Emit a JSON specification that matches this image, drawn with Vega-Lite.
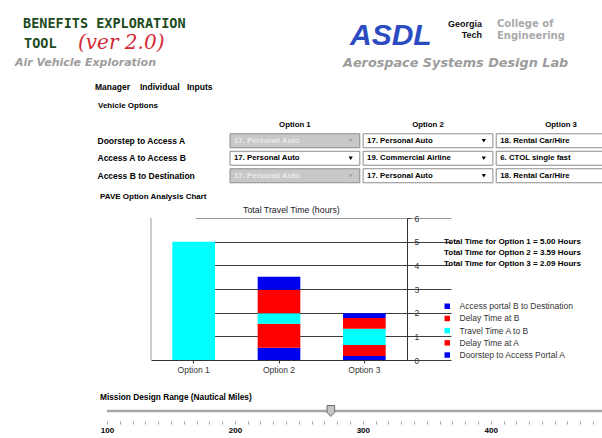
{
  "$schema": "https://vega.github.io/schema/vega-lite/v6.json",
  "padding": 0,
  "spacing": 0,
  "bounds": "flush",
  "config": {
    "view": {"stroke": null},
    "font": "Liberation Sans",
    "title": {"orient": "bottom", "anchor": "start", "frame": "group", "fontWeight": "bold", "color": "#000000"}
  },
  "vconcat": [
    {"width": 1, "height": 1, "data": {"values": []}, "mark": "point",
     "title": {"text": "BENEFITS EXPLORATION", "font": "DejaVu Sans Mono", "fontSize": 13.5, "fontWeight": "bold", "color": "#1d4a1d", "dx": 23, "offset": 16}},
    {"width": 1, "height": 1, "data": {"values": []}, "mark": "point",
     "title": {"text": "TOOL", "font": "DejaVu Sans Mono", "fontSize": 13.5, "fontWeight": "bold", "color": "#1d4a1d", "dx": 24, "offset": 35}},
    {"width": 1, "height": 1, "data": {"values": []}, "mark": "point",
     "title": {"text": "(ver 2.0)", "font": "DejaVu Serif", "fontSize": 20, "fontStyle": "italic", "fontWeight": "normal", "color": "#d42a35", "dx": 78, "offset": 29.5}},
    {"width": 1, "height": 1, "data": {"values": []}, "mark": "point",
     "title": {"text": "Air Vehicle Exploration", "font": "DejaVu Sans", "fontSize": 11, "fontStyle": "italic", "fontWeight": "bold", "color": "#9c9c9c", "dx": 15, "offset": 53}},
    {"width": 1, "height": 1, "data": {"values": []}, "mark": "point",
     "title": {"text": "ASDL", "font": "Liberation Sans", "fontSize": 30, "fontStyle": "italic", "fontWeight": "bold", "color": "#2b4cc0", "dx": 350, "offset": 16}},
    {"width": 1, "height": 1, "data": {"values": []}, "mark": "point",
     "title": {"text": "Georgia", "fontSize": 9, "fontWeight": "bold", "color": "#111111", "align": "right", "dx": 482, "offset": 14}},
    {"width": 1, "height": 1, "data": {"values": []}, "mark": "point",
     "title": {"text": "Tech", "fontSize": 9, "fontWeight": "bold", "color": "#111111", "align": "right", "dx": 482, "offset": 24}},
    {"width": 1, "height": 1, "data": {"values": []}, "mark": "point",
     "title": {"text": "College of", "font": "DejaVu Sans", "fontSize": 10, "fontWeight": "bold", "color": "#aaaaaa", "dx": 497, "offset": 11}},
    {"width": 1, "height": 1, "data": {"values": []}, "mark": "point",
     "title": {"text": "Engineering", "font": "DejaVu Sans", "fontSize": 10, "fontWeight": "bold", "color": "#aaaaaa", "dx": 497, "offset": 22}},
    {"width": 1, "height": 1, "data": {"values": []}, "mark": "point",
     "title": {"text": "Aerospace Systems Design Lab", "font": "DejaVu Sans", "fontSize": 12.8, "fontStyle": "italic", "fontWeight": "bold", "color": "#9c9c9c", "dx": 343, "offset": 47}},
    {"width": 1, "height": 1, "data": {"values": []}, "mark": "point",
     "title": {"text": "Manager", "fontSize": 8.5, "dx": 95, "offset": 72}},
    {"width": 1, "height": 1, "data": {"values": []}, "mark": "point",
     "title": {"text": "Individual", "fontSize": 8.5, "dx": 140, "offset": 71}},
    {"width": 1, "height": 1, "data": {"values": []}, "mark": "point",
     "title": {"text": "Inputs", "fontSize": 8.5, "dx": 187, "offset": 70}},
    {"width": 1, "height": 1, "data": {"values": []}, "mark": "point",
     "title": {"text": "Vehicle Options", "fontSize": 8, "dx": 98, "offset": 87.5}},
    {"width": 1, "height": 118, "data": {"values": []}, "mark": "point"},
    {
      "width": 602,
      "height": 52.5,
      "data": {"values": [
        {"leg": "Doorstep to Access A", "option": "Option 1", "vehicle": "17. Personal Auto", "state": "disabled"},
        {"leg": "Doorstep to Access A", "option": "Option 2", "vehicle": "17. Personal Auto", "state": "enabled"},
        {"leg": "Doorstep to Access A", "option": "Option 3", "vehicle": "18. Rental Car/Hire", "state": "enabled"},
        {"leg": "Access A to Access B", "option": "Option 1", "vehicle": "17. Personal Auto", "state": "enabled"},
        {"leg": "Access A to Access B", "option": "Option 2", "vehicle": "19. Commercial Airline", "state": "enabled"},
        {"leg": "Access A to Access B", "option": "Option 3", "vehicle": "6. CTOL single fast", "state": "enabled"},
        {"leg": "Access B to Destination", "option": "Option 1", "vehicle": "17. Personal Auto", "state": "disabled"},
        {"leg": "Access B to Destination", "option": "Option 2", "vehicle": "17. Personal Auto", "state": "enabled"},
        {"leg": "Access B to Destination", "option": "Option 3", "vehicle": "18. Rental Car/Hire", "state": "enabled"}
      ]},
      "encoding": {
        "y": {"field": "leg", "type": "nominal",
              "sort": ["Doorstep to Access A", "Access A to Access B", "Access B to Destination"],
              "scale": {"paddingInner": 0.2, "paddingOuter": 0.1},
              "axis": {"orient": "left", "offset": -97, "title": null, "ticks": false, "tickSize": 0, "domain": false,
                       "labelAlign": "left", "labelPadding": 0, "labelFontWeight": "bold", "labelFontSize": 8.5,
                       "labelColor": "#000000", "labelLimit": 200}}
      },
      "layer": [
        {"mark": {"type": "bar", "stroke": "#8c8c8c", "strokeWidth": 1, "clip": true},
         "encoding": {
           "x": {"field": "option", "type": "nominal",
                 "scale": {"domain": ["Option 1", "Option 2", "Option 3"], "range": [230, 626], "paddingInner": 0.025, "paddingOuter": 0},
                 "axis": {"orient": "top", "title": null, "ticks": false, "tickSize": 0, "domain": false, "labelAngle": 0,
                          "labelPadding": 4, "labelFontWeight": "bold", "labelFontSize": 7.8, "labelColor": "#000000"}},
           "color": {"field": "state", "type": "nominal",
                     "scale": {"domain": ["enabled", "disabled"], "range": ["#ffffff", "#c8c8c8"]}, "legend": null}
         }},
        {"mark": {"type": "text", "align": "left", "baseline": "middle", "dx": 4, "fontWeight": "bold", "fontSize": 7.8, "clip": true},
         "encoding": {
           "x": {"field": "option", "type": "nominal", "bandPosition": 0},
           "text": {"field": "vehicle"},
           "color": {"field": "state", "type": "nominal",
                     "scale": {"domain": ["enabled", "disabled"], "range": ["#000000", "#eaeaea"]}, "legend": null}
         }},
        {"mark": {"type": "point", "shape": "triangle-down", "size": 18, "filled": true, "opacity": 1, "clip": true},
         "encoding": {
           "x": {"field": "option", "type": "nominal", "bandPosition": 0.93},
           "color": {"field": "state", "type": "nominal",
                     "scale": {"domain": ["enabled", "disabled"], "range": ["#000000", "#a8a8a8"]}, "legend": null}
         }}
      ],
      "resolve": {"scale": {"color": "independent"}}
    },
    {"width": 1, "height": 32.5, "data": {"values": []}, "mark": "point",
     "title": {"text": "PAVE Option Analysis Chart", "orient": "top", "fontSize": 8, "dx": 100, "offset": -15.5}},
    {
      "width": 602,
      "height": 142,
      "title": {"text": "Total Travel Time (hours)", "orient": "top", "anchor": "start", "frame": "group", "dx": 243, "offset": -1,
                "fontSize": 8.8, "fontWeight": "normal", "color": "#222222"},
      "layer": [
        {
          "data": {"values": [
            {"option": "Option 1", "segment": "Doorstep to Access Portal A", "seq": 1, "hours": 0, "total_label": "Total Time for Option 1 = 5.00 Hours"},
            {"option": "Option 1", "segment": "Delay Time at A", "seq": 2, "hours": 0, "total_label": "Total Time for Option 1 = 5.00 Hours"},
            {"option": "Option 1", "segment": "Travel Time A to B", "seq": 3, "hours": 5.0, "total_label": "Total Time for Option 1 = 5.00 Hours"},
            {"option": "Option 1", "segment": "Delay Time at B", "seq": 4, "hours": 0, "total_label": "Total Time for Option 1 = 5.00 Hours"},
            {"option": "Option 1", "segment": "Access portal B to Destination", "seq": 5, "hours": 0, "total_label": "Total Time for Option 1 = 5.00 Hours"},
            {"option": "Option 2", "segment": "Doorstep to Access Portal A", "seq": 1, "hours": 0.52, "total_label": "Total Time for Option 2 = 3.59 Hours"},
            {"option": "Option 2", "segment": "Delay Time at A", "seq": 2, "hours": 1.01, "total_label": "Total Time for Option 2 = 3.59 Hours"},
            {"option": "Option 2", "segment": "Travel Time A to B", "seq": 3, "hours": 0.45, "total_label": "Total Time for Option 2 = 3.59 Hours"},
            {"option": "Option 2", "segment": "Delay Time at B", "seq": 4, "hours": 0.99, "total_label": "Total Time for Option 2 = 3.59 Hours"},
            {"option": "Option 2", "segment": "Access portal B to Destination", "seq": 5, "hours": 0.55, "total_label": "Total Time for Option 2 = 3.59 Hours"},
            {"option": "Option 3", "segment": "Doorstep to Access Portal A", "seq": 1, "hours": 0.17, "total_label": "Total Time for Option 3 = 2.09 Hours"},
            {"option": "Option 3", "segment": "Delay Time at A", "seq": 2, "hours": 0.46, "total_label": "Total Time for Option 3 = 2.09 Hours"},
            {"option": "Option 3", "segment": "Travel Time A to B", "seq": 3, "hours": 0.69, "total_label": "Total Time for Option 3 = 2.09 Hours"},
            {"option": "Option 3", "segment": "Delay Time at B", "seq": 4, "hours": 0.45, "total_label": "Total Time for Option 3 = 2.09 Hours"},
            {"option": "Option 3", "segment": "Access portal B to Destination", "seq": 5, "hours": 0.21, "total_label": "Total Time for Option 3 = 2.09 Hours"}
          ]},
          "mark": {"type": "bar"},
          "encoding": {
            "x": {"field": "option", "type": "nominal",
                  "scale": {"domain": ["Option 1", "Option 2", "Option 3"], "range": [151, 407], "paddingInner": 0.5, "paddingOuter": 0.25},
                  "axis": {"title": null, "labelAngle": 0, "labelFontSize": 8.5, "labelColor": "#333333", "domainColor": "#333333",
                           "tickColor": "#333333", "tickSize": 3, "labelPadding": 2}},
            "y": {"field": "hours", "type": "quantitative", "stack": "zero",
                  "scale": {"domain": [0, 6], "nice": false},
                  "axis": {"orient": "right", "offset": -195, "title": null, "values": [0, 1, 2, 3, 4, 5, 6], "tickCount": 7, "grid": true,
                           "gridColor": {"condition": {"test": "datum.value === 6", "value": "#9a9a9a"}, "value": "#3c3c3c"},
                           "gridWidth": 1, "domainColor": "#333333", "tickColor": "#333333", "tickSize": 3,
                           "labelPadding": 4, "labelFontSize": 8.5, "labelColor": "#333333"}},
            "color": {"field": "segment", "type": "nominal",
                      "scale": {"domain": ["Access portal B to Destination", "Delay Time at B", "Travel Time A to B", "Delay Time at A", "Doorstep to Access Portal A"],
                                "range": ["#0000f0", "#ff0000", "#00ffff", "#ff0000", "#0000f0"]},
                      "legend": {"orient": "none", "legendX": 443, "legendY": 302, "title": null, "symbolType": "square", "symbolSize": 30,
                                 "symbolStrokeWidth": 0, "labelFontSize": 8.5, "labelColor": "#333333", "labelOffset": 8,
                                 "rowPadding": 3.2, "padding": 0, "labelLimit": 200}},
            "order": {"field": "seq", "type": "quantitative"},
            "opacity": {"field": "total_label", "type": "nominal",
                        "scale": {"domain": ["Total Time for Option 1 = 5.00 Hours", "Total Time for Option 2 = 3.59 Hours", "Total Time for Option 3 = 2.09 Hours"], "range": [1, 1, 1]},
                        "legend": {"orient": "none", "legendX": 436, "legendY": 237.5, "title": null, "symbolSize": 0, "symbolStrokeWidth": 0,
                                   "symbolOpacity": 0, "labelOffset": 0, "labelFontSize": 8, "labelFontWeight": "bold", "labelColor": "#000000",
                                   "rowPadding": 3.3, "padding": 0, "labelLimit": 250}}
          }
        },
        {
          "data": {"values": [{}]},
          "mark": {"type": "rule", "color": "#9a9a9a", "strokeWidth": 1},
          "encoding": {
            "x": {"datum": "Option 1", "type": "nominal", "bandPosition": -0.5,
                  "axis": {"title": null, "labelAngle": 0, "labelFontSize": 8.5, "labelColor": "#333333", "domainColor": "#333333",
                           "tickColor": "#333333", "tickSize": 3, "labelPadding": 2}},
            "y": {"datum": 0, "type": "quantitative",
                  "axis": {"orient": "right", "offset": -195, "title": null, "values": [0, 1, 2, 3, 4, 5, 6], "tickCount": 7, "grid": true,
                           "gridColor": {"condition": {"test": "datum.value === 6", "value": "#9a9a9a"}, "value": "#3c3c3c"},
                           "gridWidth": 1, "domainColor": "#333333", "tickColor": "#333333", "tickSize": 3,
                           "labelPadding": 4, "labelFontSize": 8.5, "labelColor": "#333333"}},
            "y2": {"datum": 6}
          }
        }
      ]
    },
    {"width": 1, "height": 41, "data": {"values": []}, "mark": "point"},
    {
      "width": 602,
      "height": 20,
      "title": {"text": "Mission Design Range (Nautical Miles)", "orient": "top", "fontSize": 8.3, "dx": 100, "offset": 0},
      "data": {"values": [{"start": 100, "end": 500, "value": 275}]},
      "layer": [
        {"mark": {"type": "rule", "color": "#a6a6a6", "strokeWidth": 2.5, "clip": true},
         "encoding": {
           "x": {"field": "start", "type": "quantitative",
                 "scale": {"domain": [100, 487], "range": [107, 602], "nice": false, "zero": false},
                 "axis": {"title": null, "domain": false, "grid": false, "tickSize": 3, "tickColor": "#a0a0a0", "labelPadding": 2,
                          "values": [100, 110, 120, 130, 140, 150, 160, 170, 180, 190, 200, 210, 220, 230, 240, 250, 260, 270, 280, 290, 300, 310, 320, 330, 340, 350, 360, 370, 380, 390, 400, 410, 420, 430, 440, 450, 460, 470, 480],
                          "labelExpr": "datum.value % 100 === 0 ? datum.label : ''", "labelOverlap": false, "labelFlush": false,
                          "labelFontWeight": "bold", "labelFontSize": 8, "labelColor": "#000000"}},
           "x2": {"field": "end"}
         }},
        {"mark": {"type": "point", "shape": "M -0.7 -1 L 0.7 -1 L 0.7 0.25 L 0 1 L -0.7 0.25 Z", "size": 120, "filled": true,
                  "fill": "#c4c4c4", "stroke": "#6e6e6e", "strokeWidth": 1, "opacity": 1},
         "encoding": {"x": {"field": "value", "type": "quantitative",
                 "axis": {"title": null, "domain": false, "grid": false, "tickSize": 3, "tickColor": "#a0a0a0", "labelPadding": 2,
                          "values": [100, 110, 120, 130, 140, 150, 160, 170, 180, 190, 200, 210, 220, 230, 240, 250, 260, 270, 280, 290, 300, 310, 320, 330, 340, 350, 360, 370, 380, 390, 400, 410, 420, 430, 440, 450, 460, 470, 480],
                          "labelExpr": "datum.value % 100 === 0 ? datum.label : ''", "labelOverlap": false, "labelFlush": false,
                          "labelFontWeight": "bold", "labelFontSize": 8, "labelColor": "#000000"}}}}
      ]
    }
  ]
}
